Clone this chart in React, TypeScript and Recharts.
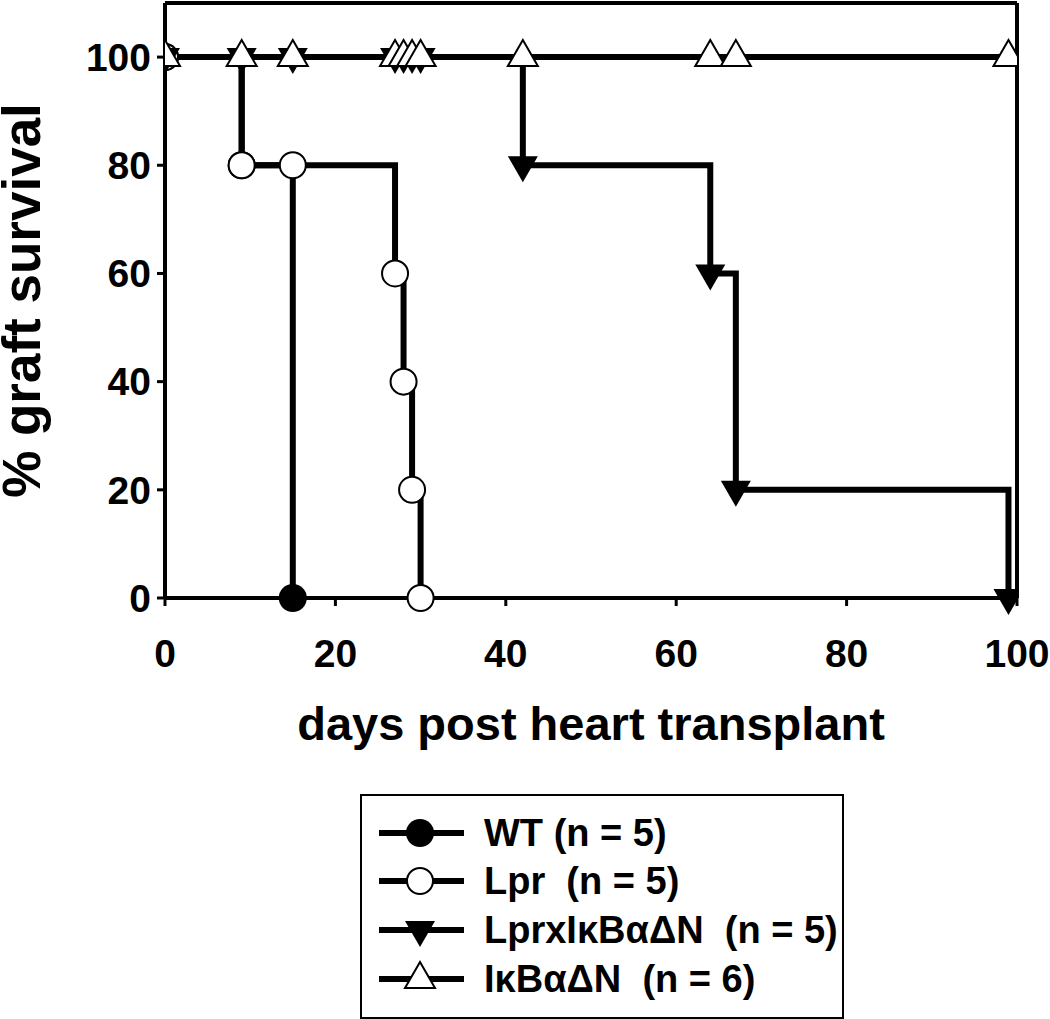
import React from 'react';
import { LineChart, Line, XAxis, YAxis, ReferenceLine } from 'recharts';

const xTicks = [0, 20, 40, 60, 80, 100];
const yTicks = [0, 20, 40, 60, 80, 100];

const wtDays = [0, 9, 15];
const wtSurvival = [100, 80, 0];
const lprDays = [0, 9, 15, 27, 28, 29, 30];
const lprSurvival = [100, 80, 80, 60, 40, 20, 0];
const lprIkbDays = [0, 9, 15, 27, 28, 29, 30, 42, 64, 67, 99];
const lprIkbSurvival = [100, 100, 100, 100, 100, 100, 100, 80, 60, 20, 0];
const ikbDays = [0, 9, 15, 27, 28, 29, 30, 42, 64, 67, 99];
const ikbSurvival = [100, 100, 100, 100, 100, 100, 100, 100, 100, 100, 100];

const seriesNames = ['WT (n = 5)', 'Lpr  (n = 5)', 'LprxI\u03baB\u03b1\u0394N  (n = 5)', 'I\u03baB\u03b1\u0394N  (n = 6)'];
const markerKinds = ['filledCircle', 'openCircle', 'downTriangle', 'upTriangle'];

const build = (days: number[], vals: number[]) => days.map((d, i) => ({ x: d, y: vals[i] }));
const seriesData = [
  build(wtDays, wtSurvival),
  build(lprDays, lprSurvival),
  build(lprIkbDays, lprIkbSurvival),
  build(ikbDays, ikbSurvival),
];

const FONT = '"Liberation Sans", Arial, Helvetica, sans-serif';

function Marker({ kind, cx, cy }: { kind: string; cx: number; cy: number }) {
  if (kind === 'filledCircle') return <circle cx={cx} cy={cy} r={14} fill="#000" />;
  if (kind === 'openCircle') return <circle cx={cx} cy={cy} r={13} fill="#fff" stroke="#000" strokeWidth={2} />;
  if (kind === 'downTriangle')
    return <polygon points={`${cx - 15},${cy - 9} ${cx + 15},${cy - 9} ${cx},${cy + 17}`} fill="#000" />;
  return (
    <polygon
      points={`${cx - 15},${cy + 9} ${cx + 15},${cy + 9} ${cx},${cy - 17}`}
      fill="#fff"
      stroke="#000"
      strokeWidth={2}
      strokeLinejoin="miter"
    />
  );
}

const makeDot = (kind: string, s: number) => (props: any) => {
  const { cx, cy, index } = props;
  if (cx == null || cy == null) return <g key={`d${s}-${index}`} />;
  return (
    <g key={`d${s}-${index}`}>
      <Marker kind={kind} cx={cx} cy={cy} />
    </g>
  );
};

const tickStyle = { fontFamily: FONT, fontWeight: 'bold', fontSize: 39, fill: '#000' };

function LegendBox() {
  return (
    <div
      style={{
        position: 'absolute',
        left: 360,
        top: 794,
        width: 480,
        height: 221,
        border: '2px solid #000',
        background: '#fff',
        boxSizing: 'content-box',
      }}
    >
      {seriesNames.map((name, i) => (
        <div
          key={name}
          style={{
            position: 'absolute',
            left: 0,
            top: [37, 85, 134, 183][i] - 24,
            height: 48,
            width: 480,
            display: 'flex',
            alignItems: 'center',
          }}
        >
          <svg width={120} height={48} style={{ display: 'block' }}>
            <line x1={17} x2={102} y1={24} y2={24} stroke="#000" strokeWidth={6} />
            <Marker kind={markerKinds[i]} cx={58} cy={24} />
          </svg>
          <span
            style={{
              fontFamily: FONT,
              fontWeight: 'bold',
              fontSize: 38,
              whiteSpace: 'pre',
              marginLeft: 2,
              lineHeight: '48px',
              color: '#000',
            }}
          >
            {name}
          </span>
        </div>
      ))}
    </div>
  );
}

export default function App() {
  return (
    <div style={{ position: 'absolute', left: 0, top: 0, width: 1050, height: 1019, background: '#fff' }}>
      <LineChart width={1050} height={1019} margin={{ top: 3, right: 33, bottom: 361, left: 0 }}>
        <XAxis
          dataKey="x"
          type="number"
          domain={[0, 100]}
          ticks={xTicks}
          allowDataOverflow
          height={60}
          axisLine={{ stroke: '#000', strokeWidth: 4 }}
          tickLine={{ stroke: '#000', strokeWidth: 3 }}
          tickSize={8}
          tickMargin={33}
          tick={tickStyle}
          label={{
            content: (p: any) => {
              const vb = p.viewBox || { x: 165, width: 852 };
              return (
                <text
                  x={vb.x + vb.width / 2}
                  y={740}
                  textAnchor="middle"
                  style={{ fontFamily: FONT, fontWeight: 'bold', fontSize: 47, fill: '#000' }}
                >
                  days post heart transplant
                </text>
              );
            },
          }}
        />
        <YAxis
          dataKey="y"
          type="number"
          domain={[0, 110]}
          ticks={yTicks}
          width={165}
          axisLine={{ stroke: '#000', strokeWidth: 4 }}
          tickLine={{ stroke: '#000', strokeWidth: 3 }}
          tickSize={8}
          tickMargin={6}
          tick={tickStyle}
          label={{
            content: (p: any) => {
              const vb = p.viewBox || { y: 3, height: 595 };
              const cy = vb.y + vb.height / 2;
              return (
                <text
                  x={40}
                  y={cy}
                  transform={`rotate(-90, 40, ${cy})`}
                  textAnchor="middle"
                  style={{ fontFamily: FONT, fontWeight: 'bold', fontSize: 53, fill: '#000' }}
                >
                  % graft survival
                </text>
              );
            },
          }}
        />
        <ReferenceLine y={110} stroke="#000" strokeWidth={4} />
        <ReferenceLine x={100} stroke="#000" strokeWidth={4} />
        {seriesData.map((d, i) => (
          <Line
            key={seriesNames[i]}
            data={d}
            dataKey="y"
            name={seriesNames[i]}
            type="stepAfter"
            stroke="#000"
            strokeWidth={6}
            strokeLinejoin="miter"
            strokeLinecap="butt"
            dot={makeDot(markerKinds[i], i)}
            activeDot={false}
            isAnimationActive={false}
          />
        ))}
      </LineChart>
      <LegendBox />
    </div>
  );
}
